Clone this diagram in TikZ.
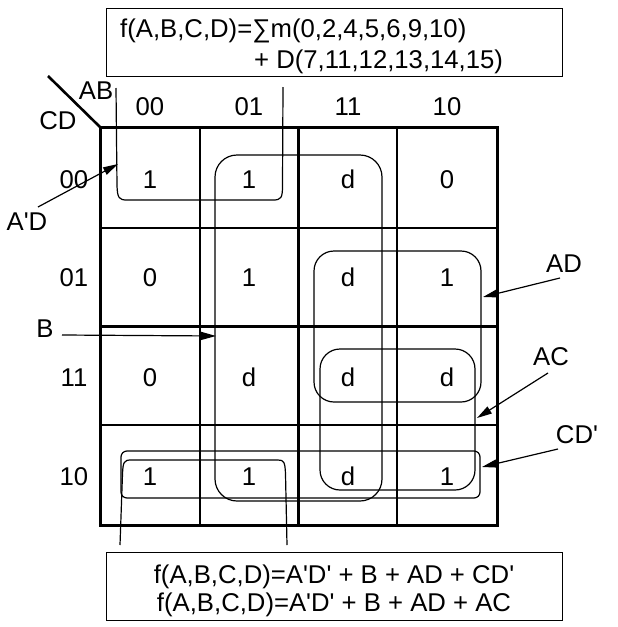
\documentclass[tikz,border=0pt]{standalone}
\usepackage{fontspec}
\setmainfont{Liberation Sans}[Ligatures=TeXOff]
\usetikzlibrary{arrows.meta}
\begin{document}
\begin{tikzpicture}[x=1pt,y=-1pt,
  every node/.style={inner sep=0pt, font=\fontsize{25.7}{30}\selectfont},
  txt/.style={anchor=base},
  gridthin/.style={line width=1.3pt},
  gridthick/.style={line width=3pt},
  loopline/.style={line width=1.2pt},
  boxline/.style={draw, line width=1.2pt, anchor=north west},
  arr/.style={line width=1.2pt, -{Triangle[length=15pt,width=8pt]}}]
\useasboundingbox (0,0) rectangle (618,627);
\fill[white] (0,0) rectangle (618,627);

% top equation box
\node (topbox) [boxline, minimum width=456pt, minimum height=68pt] at (106,8) {};
\node (eq1) [anchor=base west] at (120,37) {f(A,B,C,D)=∑m(0,2,4,5,6,9,10)};
\node (eq2) [anchor=base west] at (254,68) {+ D(7,11,12,13,14,15)};

% bottom result box
\node (botbox) [boxline, minimum width=456pt, minimum height=68pt] at (106,552) {};
\node (res1) [txt] at (334,583) {f(A,B,C,D)=A'D' + B + AD + CD'};
\node (res2) [txt] at (334,611) {f(A,B,C,D)=A'D' + B + AD + AC};

% grid
\draw[gridthin] (200,127) -- (200,525) (397,127) -- (397,525)
                (100,228) -- (497,228) (100,425) -- (497,425);
\draw[gridthick] (298,127) -- (298,525) (100,326) -- (497,326);
\draw[gridthick] (100,127) rectangle (497,525);
\draw[line width=2.6pt] (48,76) -- (100,127);

% headers
\node (ab) [txt] at (96,99) {AB};
\node (cd) [txt] at (58,129) {CD};
\node (h0) [txt] at (150,115) {00};
\node (h1) [txt] at (249,115) {01};
\node (h2) [txt] at (348,115) {11};
\node (h3) [txt] at (447,115) {10};
\node (r0) [txt] at (74,188) {00};
\node (r1) [txt] at (74,286) {01};
\node (r2) [txt] at (74,386) {11};
\node (r3) [txt] at (74,485) {10};

% cell values
\foreach \v [count=\i from 0] in {1,1,d,0} {\pgfmathsetmacro\cx{150+99*\i}\node (ca\i) [txt] at (\cx,188) {\v};}
\foreach \v [count=\i from 0] in {0,1,d,1} {\pgfmathsetmacro\cx{150+99*\i}\node (cb\i) [txt] at (\cx,286) {\v};}
\foreach \v [count=\i from 0] in {0,d,d,d} {\pgfmathsetmacro\cx{150+99*\i}\node (cc\i) [txt] at (\cx,386) {\v};}
\foreach \v [count=\i from 0] in {1,1,d,1} {\pgfmathsetmacro\cx{150+99*\i}\node (cd\i) [txt] at (\cx,485) {\v};}

% loops
% A'D' (wrap top and bottom)
\draw[loopline] (116,88) -- (117,186) .. controls (117.5,198) and (119,200) .. (127,200)
  -- (273,200) .. controls (281,200) and (282.5,198) .. (282.5,186) -- (283,87);
\draw[loopline] (120,545) -- (122.5,474) .. controls (123,462) and (124,460) .. (131,460)
  -- (278,460) .. controls (284,460) and (285,462) .. (285.5,474) -- (287,545);
% B
\draw[loopline, rounded corners=22pt] (215,155) rectangle (382,501);
% AD
\draw[loopline, rounded corners=20pt] (314,251) rectangle (481,402);
% AC
\draw[loopline, rounded corners=20pt] (320,349) rectangle (475,490);
% CD'
\draw[loopline, rounded corners=6pt] (121,451) rectangle (480,498);

% labels and arrows
\node (lad1) [txt] at (27,230) {A'D};
\node (lb) [txt] at (45,337) {B};
\node (lad) [txt] at (564,272) {AD};
\node (lac) [txt] at (551,365) {AC};
\node (lcd) [txt] at (577,443) {CD'};

\coordinate (t1) at (38,207);  \coordinate (h1a) at (118,164);
\coordinate (t2) at (62,335);  \coordinate (h2a) at (216,336);
\coordinate (t3) at (560,278); \coordinate (h3a) at (483,297);
\coordinate (t4) at (548,373); \coordinate (h4a) at (477,418);
\coordinate (t5) at (558,449); \coordinate (h5a) at (482,467);
\draw[arr] (t1) -- (h1a);
\draw[arr] (t2) -- (h2a);
\draw[arr] (t3) -- (h3a);
\draw[arr] (t4) -- (h4a);
\draw[arr] (t5) -- (h5a);
\end{tikzpicture}
\end{document}
